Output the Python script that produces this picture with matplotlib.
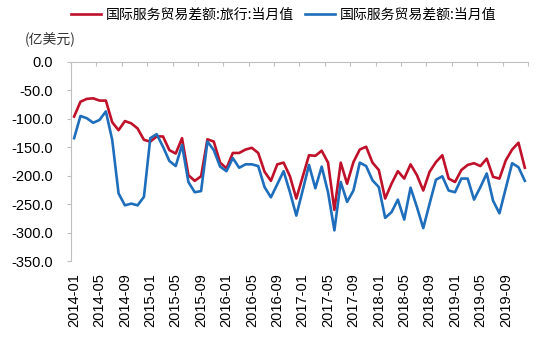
import numpy as np
import pandas as pd
import matplotlib
matplotlib.use("Agg")
import matplotlib.pyplot as plt
from matplotlib.ticker import FixedLocator, FuncFormatter

plt.rcParams['font.family'] = ['Liberation Sans', 'Noto Sans CJK SC', 'DejaVu Sans']

# monthly categories, 2014-01 .. 2019-12
months = [p.strftime("%Y-%m") for p in pd.period_range("2014-01", "2019-12", freq="M")]

# travel balance (red) and total services balance (blue), 100m USD
travel = [
    -96, -70, -65, -64, -68, -68, -106, -120, -104, -108, -117, -137,
    -140, -131, -131, -155, -161, -134, -199, -209, -201, -136, -140, -177,
    -187, -160, -160, -154, -151, -160, -193, -209, -180, -177, -201, -240,
    -202, -164, -165, -156, -177, -260, -177, -214, -176, -154, -149, -177,
    -190, -240, -214, -192, -205, -180, -199, -226, -193, -176, -164, -205,
    -211, -190, -181, -178, -183, -170, -202, -205, -173, -154, -142, -186,
]
services = [
    -134, -95, -99, -107, -102, -87, -137, -231, -252, -249, -252, -237,
    -134, -127, -149, -174, -183, -146, -211, -229, -227, -140, -155, -184,
    -192, -169, -186, -180, -180, -183, -220, -238, -215, -192, -229, -270,
    -226, -181, -222, -184, -229, -296, -211, -246, -226, -177, -183, -208,
    -220, -274, -264, -242, -277, -221, -255, -292, -249, -207, -201, -226,
    -229, -205, -205, -242, -220, -196, -244, -266, -222, -178, -185, -209,
]

series_names = ["国际服务贸易差额:旅行:当月值", "国际服务贸易差额:当月值"]
colors = ["#C0112B", "#1F6EBB"]
grey = "#BFBFBF"

x = np.arange(len(months))

fig = plt.figure(figsize=(5.5, 3.4), dpi=100)
ax = fig.add_axes([0.129, 0.232, 0.831, 0.586])

ax.plot(x, travel, color=colors[0], lw=1.9, label=series_names[0])
ax.plot(x, services, color=colors[1], lw=1.9, label=series_names[1])

ax.set_xlim(-0.5, len(months) - 0.5)
ax.set_ylim(-350, 0)

# labels every 4 months at the bottom, tick marks on the top axis line
ax.xaxis.set_major_locator(FixedLocator(x[::4]))
ax.set_xticklabels(months[::4], rotation=90, fontsize=10.5)
ax.xaxis.set_minor_locator(FixedLocator(np.arange(-0.5, len(months), 4)))
ax.tick_params(axis='x', which='major', bottom=False, top=False,
               labelbottom=True, labeltop=False, pad=5)
ax.tick_params(axis='x', which='minor', bottom=False, top=True,
               direction='in', length=3, color=grey, width=0.8)

ax.set_yticks(np.arange(-350, 1, 50))
ax.yaxis.set_major_formatter(FuncFormatter(lambda v, p: f"{v:.1f}"))
ax.tick_params(axis='y', direction='out', length=3, color=grey, width=0.8,
               labelsize=10.5, pad=10)

for side in ["bottom", "right"]:
    ax.spines[side].set_visible(False)
for side in ["top", "left"]:
    ax.spines[side].set_color(grey)
    ax.spines[side].set_linewidth(0.8)

fig.text(0.045, 0.882, "(亿美元)", fontsize=10, family=['Noto Sans CJK SC'],
         color="#333333", va="center")

fig.legend(loc="center", bbox_to_anchor=(0.515, 0.955), ncol=2, frameon=False,
           handlelength=2.2, handletextpad=0.3, columnspacing=0.8,
           prop={'family': ['Noto Sans CJK SC'], 'size': 10})

fig.savefig("out.png", dpi=100)
